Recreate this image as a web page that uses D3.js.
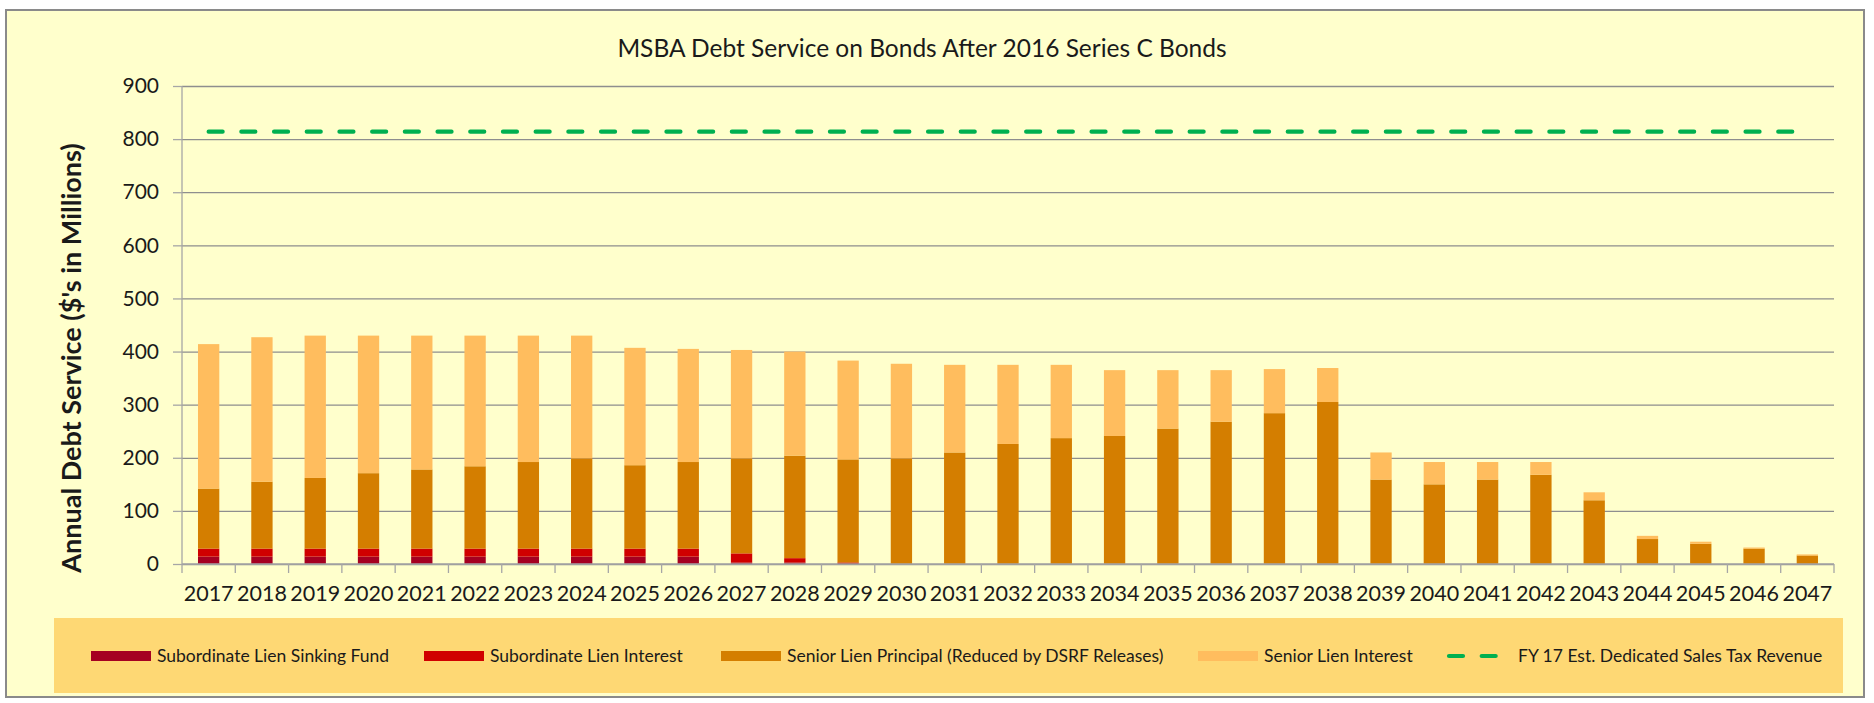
<!DOCTYPE html>
<html>
<head>
<meta charset="utf-8">
<script src="https://cdn.jsdelivr.net/npm/d3@7"></script>
<style>
  body { margin: 0; background: #fff; }
  text { font-family: Lato, "Open Sans", sans-serif; fill: #1a1a1a; }
</style>
</head>
<body>
<div id="chart"></div>
<script>
// values, $ millions
const years = d3.range(2017, 2048).map(String)
const sinkingFund = [14,14,14,14,14,14,14,14,14,14,3,3,0,0,0,0,0,0,0,0,0,0,0,0,0,0,0,0,0,0,0]
const subInterest = [15,15,15,15,15,15,15,15,15,15,17,8,3,0,0,0,0,0,0,0,0,0,0,0,0,0,0,0,0,0,0]
const seniorPrincipal = [113,126,133,142,149,155,163,170,157,163,179,193,194,199,210,226,237,241,255,268,284,305,159,150,159,168,120,47,38,29,16]
const seniorInterest = [272,272,268,259,252,246,238,231,221,213,204,196,186,178,165,149,138,124,110,97,83,64,51,42,33,24,15,6,4,2,2]
const salesTax = 814
const yTicks = [0,100,200,300,400,500,600,700,800,900]

const seriesNames = ['Subordinate Lien Sinking Fund', 'Subordinate Lien Interest',
  'Senior Lien Principal (Reduced by DSRF Releases)', 'Senior Lien Interest']
const lineName = 'FY 17 Est. Dedicated Sales Tax Revenue'
const colors = ['#A50021', '#D00000', '#D47E00', '#FFBD5E']
const green = '#00B050'

const W = 1874, H = 703
const plotL = 182, plotR = 1834, plotT = 86, plotB = 564

const rows = years.map((y, i) => ({
  year: y, s0: sinkingFund[i], s1: subInterest[i], s2: seniorPrincipal[i], s3: seniorInterest[i]
}))
const stack = d3.stack().keys(['s0','s1','s2','s3'])(rows)

var svg = d3.select('#chart').append('svg')
  .attr('width', W)
  .attr('height', H)

// chart area frame
svg.append('rect')
  .attr('x', 6).attr('y', 10)
  .attr('width', 1858).attr('height', 687)
  .style('fill', '#FFFFCC')
  .style('stroke', '#8A8A8A')
  .style('stroke-width', 2)

svg.append('text')
  .attr('x', 922).attr('y', 57)
  .attr('text-anchor', 'middle')
  .style('font-size', '24.5px')
  .text('MSBA Debt Service on Bonds After 2016 Series C Bonds')

var x = d3.scaleBand()
  .domain(years)
  .range([plotL, plotR])
  .paddingInner(0.6)
  .paddingOuter(0.3)
var y = d3.scaleLinear()
  .domain([0, 900])
  .range([plotB, plotT])

// gridlines
svg.append('g')
  .attr('transform', 'translate(' + plotL + ',0)')
  .call(d3.axisLeft(y).tickValues(yTicks).tickSize(-(plotR - plotL)).tickFormat(''))
  .call(g => g.select('.domain').remove())
  .selectAll('line')
  .style('stroke', '#8E8E8E')
  .style('stroke-width', 1.3)

// y axis
var yAxis = svg.append('g')
  .attr('transform', 'translate(' + plotL + ',0)')
  .call(d3.axisLeft(y).tickValues(yTicks).tickSize(9).tickPadding(14))
yAxis.select('.domain').attr('d', 'M0,' + plotT + 'V' + plotB).style('stroke', '#A6A6A6').style('stroke-width', 1.3)
yAxis.selectAll('line').style('stroke', '#A6A6A6').style('stroke-width', 1.3)
yAxis.selectAll('text').style('font-size', '21px').style('font-family', 'Lato').style('fill', '#1a1a1a')

svg.append('text')
  .attr('transform', 'translate(81,358) rotate(-90)')
  .attr('text-anchor', 'middle')
  .style('font-size', '27px')
  .style('font-weight', 'bold')
  .text("Annual Debt Service ($'s in Millions)")

// stacked bars
svg.append('g')
  .selectAll('g')
  .data(stack)
  .enter()
  .append('g')
  .style('fill', (d, i) => colors[i])
  .selectAll('rect')
  .data(d => d)
  .enter()
  .append('rect')
  .attr('x', d => x(d.data.year))
  .attr('width', x.bandwidth())
  .attr('y', d => y(d[1]))
  .attr('height', d => y(d[0]) - y(d[1]))

// x axis: line, boundary ticks, labels
var half = (x.step() - x.bandwidth()) / 2
svg.append('line')
  .attr('x1', plotL).attr('x2', plotR)
  .attr('y1', y(0)).attr('y2', y(0))
  .style('stroke', '#A6A6A6').style('stroke-width', 1.5)
var bounds = years.map(d => x(d) - half).concat([x(years[years.length - 1]) + x.bandwidth() + half])
svg.append('g')
  .selectAll('line')
  .data(bounds)
  .enter()
  .append('line')
  .attr('x1', d => d).attr('x2', d => d)
  .attr('y1', y(0)).attr('y2', y(0) + 9)
  .style('stroke', '#A6A6A6').style('stroke-width', 1.3)
svg.append('g')
  .selectAll('text')
  .data(years)
  .enter()
  .append('text')
  .attr('x', d => x(d) + x.bandwidth() / 2)
  .attr('y', 601)
  .attr('text-anchor', 'middle')
  .style('font-size', '21.5px')
  .text(d => d)

// sales tax revenue line
svg.append('path')
  .datum(years)
  .attr('d', d3.line().x(d => x(d) + x.bandwidth() / 2).y(() => y(salesTax)))
  .style('fill', 'none')
  .style('stroke', green)
  .style('stroke-width', 4.2)
  .style('stroke-linecap', 'round')
  .style('stroke-dasharray', '14,18.7')

// legend
svg.append('rect')
  .attr('x', 54).attr('y', 618)
  .attr('width', 1789).attr('height', 75)
  .style('fill', '#FED874')
var legX = [91, 424, 721, 1198]
var leg = svg.append('g')
leg.selectAll('rect')
  .data(seriesNames)
  .enter()
  .append('rect')
  .attr('x', (d, i) => legX[i])
  .attr('y', 651)
  .attr('width', 60).attr('height', 10)
  .style('fill', (d, i) => colors[i])
leg.selectAll('text')
  .data(seriesNames)
  .enter()
  .append('text')
  .attr('x', (d, i) => legX[i] + 66)
  .attr('y', 662)
  .style('font-size', '17.5px')
  .text(d => d)
leg.append('line')
  .attr('x1', 1449).attr('x2', 1497)
  .attr('y1', 656).attr('y2', 656)
  .style('stroke', green)
  .style('stroke-width', 4.2)
  .style('stroke-linecap', 'round')
  .style('stroke-dasharray', '14,18.7')
leg.append('text')
  .attr('x', 1518).attr('y', 662)
  .style('font-size', '17.5px')
  .text(lineName)
</script>
</body>
</html>
